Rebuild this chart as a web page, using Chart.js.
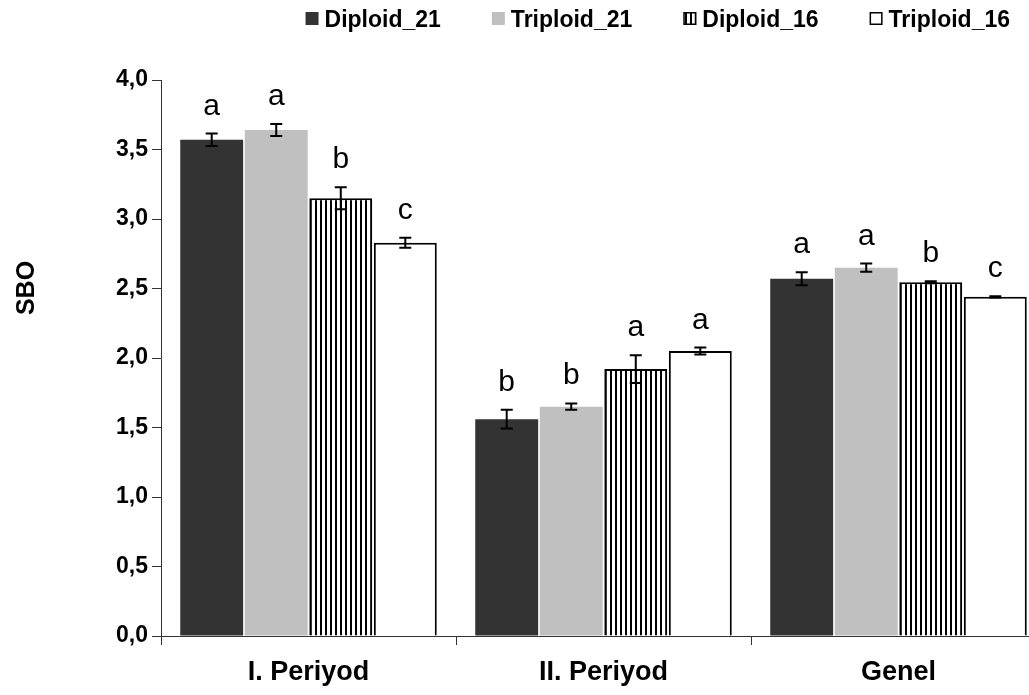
<!DOCTYPE html>
<html>
<head>
<meta charset="utf-8">
<script src="https://cdn.jsdelivr.net/npm/chart.js@4/dist/chart.umd.min.js"></script>
<style>
  body { margin: 0; background: #fff; overflow: hidden; }
  #wrap { width: 1029px; height: 695px; overflow: hidden; }
</style>
</head>
<body>
<div id="wrap"><canvas id="chart" width="1050" height="695"></canvas></div>
<script>
const categories = ["I. Periyod", "II. Periyod", "Genel"];
const seriesNames = ["Diploid_21", "Triploid_21", "Diploid_16", "Triploid_16"];

const diploid21 = [3.57, 1.56, 2.57];
const triploid21 = [3.64, 1.65, 2.65];
const diploid16 = [3.15, 1.92, 2.545];
const triploid16 = [2.83, 2.05, 2.44];

const diploid21Err = [0.045, 0.068, 0.047];
const triploid21Err = [0.043, 0.023, 0.029];
const diploid16Err = [0.079, 0.10, 0.007];
const triploid16Err = [0.036, 0.025, 0.005];

const diploid21Letters = ["a", "b", "a"];
const triploid21Letters = ["a", "b", "a"];
const diploid16Letters = ["b", "a", "b"];
const triploid16Letters = ["c", "a", "c"];

const yTickLabels = ["0,0", "0,5", "1,0", "1,5", "2,0", "2,5", "3,0", "3,5", "4,0"];
const yTitle = "SBO";

const FONT = "'Liberation Sans', Arial, sans-serif";

const canvas = document.getElementById("chart");
const ctx = canvas.getContext("2d");

// vertical stripe fill for Diploid_16
const pc = document.createElement("canvas");
pc.width = 5;
pc.height = 10;
const pctx = pc.getContext("2d");
pctx.fillStyle = "#fff";
pctx.fillRect(0, 0, 5, 10);
pctx.fillStyle = "#000";
pctx.fillRect(0, 0, 2, 10);
const stripes = ctx.createPattern(pc, "repeat");

const errors = [diploid21Err, triploid21Err, diploid16Err, triploid16Err];
const letters = [diploid21Letters, triploid21Letters, diploid16Letters, triploid16Letters];

const errorBars = {
  id: "errorBars",
  afterDatasetsDraw(chart) {
    const c = chart.ctx;
    const y = chart.scales.y;
    c.save();
    chart.data.datasets.forEach((ds, i) => {
      const meta = chart.getDatasetMeta(i);
      meta.data.forEach((bar, j) => {
        const v = ds.data[j];
        const e = errors[i][j];
        const top = y.getPixelForValue(v + e);
        const bot = y.getPixelForValue(v - e);
        c.strokeStyle = "#000";
        c.lineWidth = 2;
        c.beginPath();
        c.moveTo(bar.x, top);
        c.lineTo(bar.x, bot);
        c.moveTo(bar.x - 6, top);
        c.lineTo(bar.x + 6, top);
        c.moveTo(bar.x - 6, bot);
        c.lineTo(bar.x + 6, bot);
        c.stroke();

        c.fillStyle = "#000";
        c.font = "30px " + FONT;
        c.textAlign = "center";
        c.textBaseline = "alphabetic";
        c.fillText(letters[i][j], bar.x, top - 19);
      });
    });
    c.restore();
  }
};

const extras = {
  id: "extras",
  afterDraw(chart) {
    const c = chart.ctx;
    c.save();
    // y title
    c.fillStyle = "#000";
    c.font = "bold 25px " + FONT;
    c.textAlign = "center";
    c.textBaseline = "middle";
    c.translate(27, 288);
    c.rotate(-Math.PI / 2);
    c.fillText(yTitle, 0, 0);
    c.restore();

    // legend, right aligned
    c.save();
    c.font = "bold 23px " + FONT;
    c.textBaseline = "alphabetic";
    c.textAlign = "left";
    const box = 13, gapBox = 6, gapItem = 51;
    const widths = chart.data.datasets.map(ds => c.measureText(ds.label).width);
    let total = 0;
    widths.forEach((w, i) => { total += box + gapBox + w + (i < widths.length - 1 ? gapItem : 0); });
    let x = 1010 - total;
    chart.data.datasets.forEach((ds, i) => {
      c.fillStyle = ds.backgroundColor;
      c.fillRect(x, 12, box, box);
      if (ds.borderWidth) {
        c.strokeStyle = "#000";
        c.lineWidth = 1.5;
        c.strokeRect(x + 0.75, 12.75, box - 1.5, box - 1.5);
      }
      c.fillStyle = "#000";
      c.fillText(ds.label, x + box + gapBox, 27);
      x += box + gapBox + widths[i] + gapItem;
    });
    c.restore();
  }
};

new Chart(ctx, {
  type: "bar",
  data: {
    labels: categories,
    datasets: [
      { label: seriesNames[0], data: diploid21, backgroundColor: "#333333", borderWidth: 0 },
      { label: seriesNames[1], data: triploid21, backgroundColor: "#c0c0c0", borderWidth: 0 },
      { label: seriesNames[2], data: diploid16, backgroundColor: stripes, borderColor: "#000", borderWidth: 2 },
      { label: seriesNames[3], data: triploid16, backgroundColor: "#ffffff", borderColor: "#000", borderWidth: 2 }
    ]
  },
  options: {
    responsive: false,
    animation: false,
    categoryPercentage: 0.875,
    barPercentage: 0.975,
    layout: { padding: { top: 80, right: 4, left: 0, bottom: 0 } },
    plugins: {
      legend: { display: false },
      tooltip: { enabled: false }
    },
    scales: {
      y: {
        min: 0,
        max: 4,
        afterFit(s) { s.width = 161; },
        ticks: {
          stepSize: 0.5,
          color: "#000",
          padding: 4,
          font: { family: FONT, size: 23, weight: "bold" },
          callback: (v, i) => yTickLabels[i]
        },
        grid: { drawOnChartArea: false, tickLength: 9, color: "#333" },
        border: { display: true, color: "#333", width: 1 }
      },
      x: {
        afterFit(s) { s.height = 59; },
        ticks: {
          color: "#000",
          padding: 11,
          font: { family: FONT, size: 27, weight: "bold" }
        },
        grid: { drawOnChartArea: false, tickLength: 9, color: "#333", offset: true },
        border: { display: true, color: "#333", width: 1 }
      }
    }
  },
  plugins: [errorBars, extras]
});
</script>
</body>
</html>
